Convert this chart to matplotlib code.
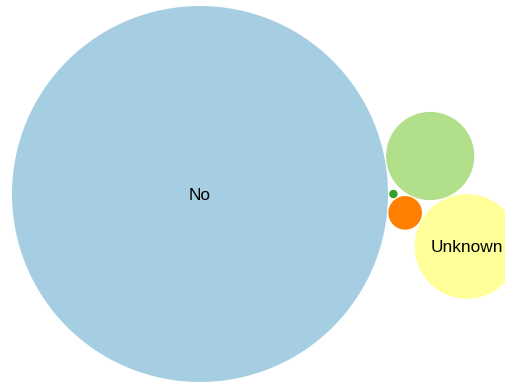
import math
import matplotlib
matplotlib.use("Agg")
import matplotlib.pyplot as plt
from matplotlib.patches import Circle

# 1. data (order = order used by the packing layout)
labels = ["No", "", "", "", "Unknown"]
values = [2000, 1, 16, 110, 155]
colors = ["#a6cee3", "#33a02c", "#ff7f00", "#b2df8a", "#ffff99"]


# 2. circle packing: front chain, each new bubble goes next to the last one placed
def place(b, a, c):
    dx = b["x"] - a["x"]
    dy = b["y"] - a["y"]
    d2 = dx * dx + dy * dy
    if d2:
        a2 = (a["r"] + c["r"]) ** 2
        b2 = (b["r"] + c["r"]) ** 2
        if a2 > b2:
            x = (d2 + b2 - a2) / (2 * d2)
            y = math.sqrt(max(0, b2 / d2 - x * x))
            c["x"] = b["x"] - x * dx - y * dy
            c["y"] = b["y"] - x * dy + y * dx
        else:
            x = (d2 + a2 - b2) / (2 * d2)
            y = math.sqrt(max(0, a2 / d2 - x * x))
            c["x"] = a["x"] + x * dx - y * dy
            c["y"] = a["y"] + x * dy + y * dx
    else:
        c["x"] = a["x"] + c["r"]
        c["y"] = a["y"]


def intersects(a, b):
    dr = a["r"] + b["r"] - 1e-6
    dx = b["x"] - a["x"]
    dy = b["y"] - a["y"]
    return dr > 0 and dr * dr > dx * dx + dy * dy


def pack(circles):
    n = len(circles)
    a = circles[0]
    a["x"], a["y"] = 0.0, 0.0
    b = circles[1]
    a["x"] = -b["r"]
    b["x"], b["y"] = a["r"], 0.0
    c = circles[2]
    place(b, a, c)

    A, B, C = {"c": a}, {"c": b}, {"c": c}
    A["next"] = C["prev"] = B
    B["next"] = A["prev"] = C
    C["next"] = B["prev"] = A
    a, b = A, B

    i = 3
    while i < n:
        c = circles[i]
        place(a["c"], b["c"], c)
        cn = {"c": c}
        j, k = b["next"], a["prev"]
        sj, sk = b["c"]["r"], a["c"]["r"]
        hit = False
        while True:
            if sj <= sk:
                if intersects(j["c"], c):
                    b = j
                    a["next"] = b
                    b["prev"] = a
                    hit = True
                    break
                sj += j["c"]["r"]
                j = j["next"]
            else:
                if intersects(k["c"], c):
                    a = k
                    a["next"] = b
                    b["prev"] = a
                    hit = True
                    break
                sk += k["c"]["r"]
                k = k["prev"]
            if j is k["next"]:
                break
        if hit:
            continue
        # insert between a and b, next one goes right after it
        cn["prev"], cn["next"] = a, b
        a["next"] = cn
        b["prev"] = cn
        a, b = cn, cn["next"]
        i += 1


W, H = 506, 383
r_big_px = 188.0                          # radius of the largest bubble in pixels
unit = math.sqrt(max(values)) / r_big_px  # data units per pixel
pad = 0.6 * unit

circles = [{"r": math.sqrt(v) + pad} for v in values]
pack(circles)
for c in circles:
    c["r"] -= pad

# 3. plot
fig = plt.figure(figsize=(W / 100, H / 100), dpi=100)
ax = fig.add_axes([0, 0, 1, 1])
ax.axis("off")

for c, col, lab in zip(circles, colors, labels):
    ax.add_patch(Circle((c["x"], c["y"]), c["r"], facecolor=col, edgecolor="none"))
    if lab:
        ax.text(c["x"], c["y"], lab, ha="center", va="center_baseline", fontsize=12.4,
                family=["Liberation Sans", "DejaVu Sans"], color="#000000")

# frame the view: left edge of the pack 12 px in, top edge 6 px down
left = min(c["x"] - c["r"] for c in circles) - 12 * unit
top = min(c["y"] - c["r"] for c in circles) - 6 * unit
ax.set_xlim(left, left + W * unit)
ax.set_ylim(top + H * unit, top)  # screen-style y axis (down)

plt.savefig("out.png", dpi=100)
